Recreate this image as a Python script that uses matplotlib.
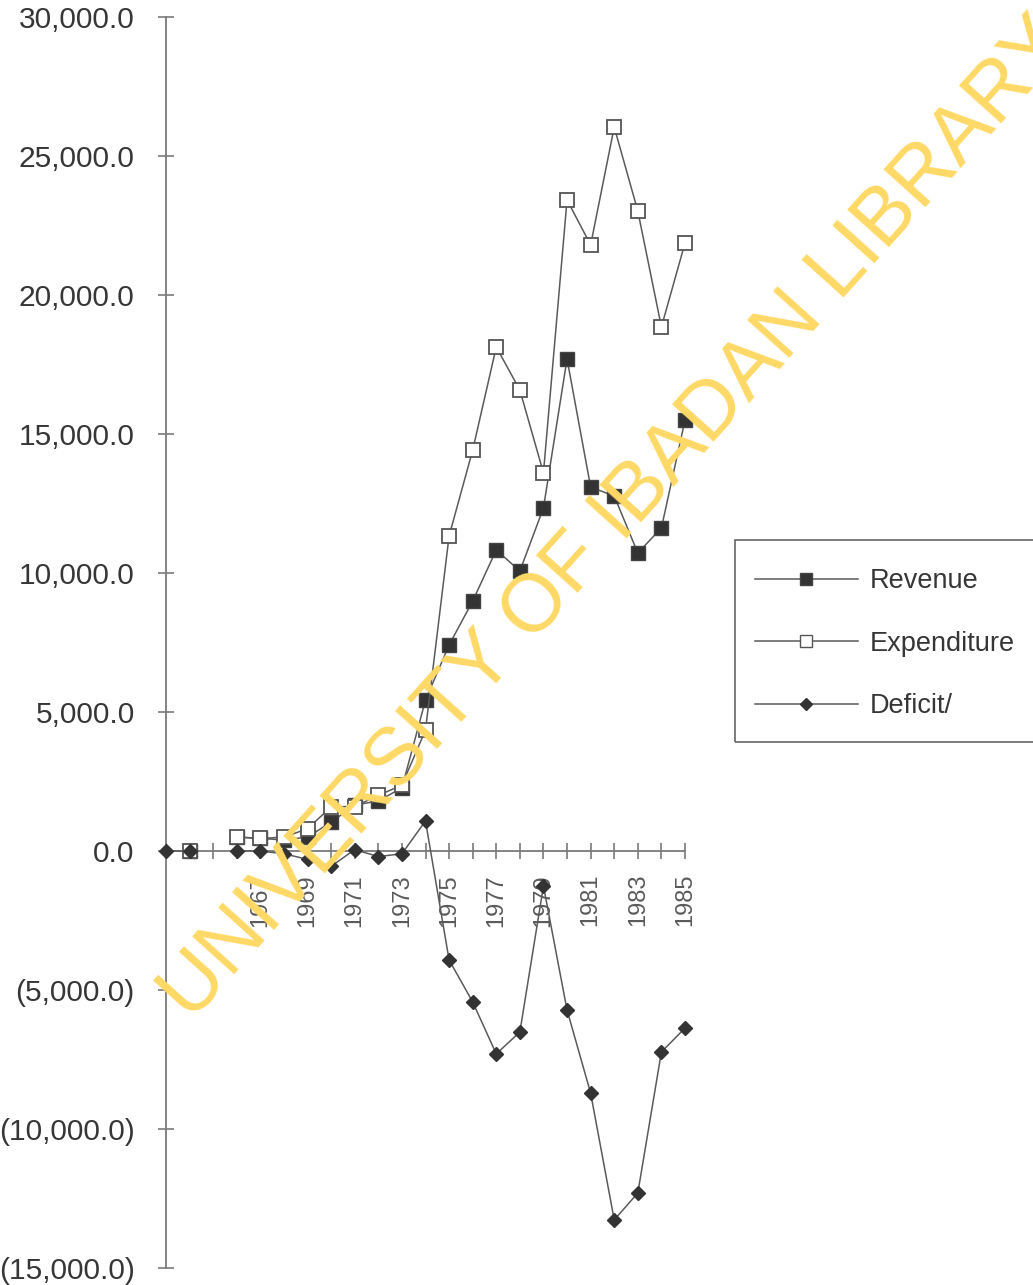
import numpy as np
import matplotlib
matplotlib.use("Agg")
import matplotlib.pyplot as plt
from matplotlib.lines import Line2D
from matplotlib.patches import Rectangle
from matplotlib.ticker import FuncFormatter

plt.rcParams["font.family"] = ["Liberation Sans", "DejaVu Sans"]

W, H = 1033, 1285
nan = np.nan

# federal revenue, expenditure and overall balance (N million), 1963-1985
YEARS = [1963, 1964, 1965, 1966, 1967, 1968, 1969, 1970, 1971, 1972, 1973, 1974,
         1975, 1976, 1977, 1978, 1979, 1980, 1981, 1982, 1983, 1984, 1985]
REVENUE = [nan, 0, nan, 500, 450, 400, 500, 1040, 1650, 1800, 2270, 5430,
           7410, 8990, 10830, 10070, 12340, 17700, 13090, 12770, 10720, 11620, 15500]
EXPENDITURE = [nan, 0, nan, 510, 450, 500, 800, 1590, 1600, 2000, 2370, 4350,
               11330, 14420, 18130, 16580, 13600, 23420, 21800, 26040, 23020, 18850, 21870]
DEFICIT = [0, 0, nan, 0, 0, -100, -300, -550, 50, -200, -100, 1080,
           -3920, -5430, -7300, -6510, -1260, -5720, -8710, -13270, -12300, -7230, -6370]
LABELLED = [1967, 1969, 1971, 1973, 1975, 1977, 1979, 1981, 1983, 1985]

LINE = "#5a5a5a"
AXC = "#7a7a7a"
TXT = "#363636"


def money(v, pos=None):
    s = f"{abs(v):,.1f}"
    return f"({s})" if v < 0 else s


fig = plt.figure(figsize=(W / 100, H / 100), dpi=100)
ax = fig.add_axes([166 / W, 1 - 1268 / H, (685 - 166) / W, (1268 - 17) / H])

x = np.arange(len(YEARS))
ax.plot(x, REVENUE, color=LINE, lw=1.1, marker="s", ms=9.5, mfc="#333333", mec="#444444",
        mew=1, clip_on=False, zorder=3)
ax.plot(x, EXPENDITURE, color=LINE, lw=1.1, marker="s", ms=10.5, mfc="white", mec="#555555",
        mew=1.3, clip_on=False, zorder=4)
ax.plot(x, DEFICIT, color=LINE, lw=1.1, marker="D", ms=7, mfc="#333333", mec="#333333",
        clip_on=False, zorder=5)

ax.set_xlim(0, len(YEARS) - 1)
ax.set_ylim(-15000, 30000)
for s in ["top", "right"]:
    ax.spines[s].set_visible(False)
ax.spines["bottom"].set_position(("data", 0))
for s in ["left", "bottom"]:
    ax.spines[s].set_color(AXC)
    ax.spines[s].set_linewidth(1.3)

ax.set_yticks(np.arange(-15000, 30001, 5000))
ax.yaxis.set_major_formatter(FuncFormatter(money))
ax.tick_params(axis="y", direction="inout", length=11, width=1.2, color=AXC,
               labelsize=21.5, labelcolor=TXT, pad=17)

ax.set_xticks(x)
ax.set_xticklabels([str(y) if y in LABELLED else "" for y in YEARS],
                   rotation=90, family=["Liberation Sans Narrow", "Liberation Sans"])
ax.tick_params(axis="x", direction="inout", length=11, width=1.2, color=AXC,
               labelsize=17, labelcolor="#5a5a5a", pad=11)

# legend box runs off the right edge of the page
fig.patches.append(Rectangle((735 / W, 1 - 742 / H), (1045 - 735) / W, (742 - 540) / H,
                             transform=fig.transFigure, fill=False, ec="#666666", lw=1.2))
handles = [
    Line2D([], [], color=LINE, lw=1.1, marker="s", ms=8.5, mfc="#333333", mec="#444444"),
    Line2D([], [], color=LINE, lw=1.1, marker="s", ms=9, mfc="white", mec="#555555"),
    Line2D([], [], color=LINE, lw=1.1, marker="D", ms=6.5, mfc="#333333", mec="#333333"),
]
fig.legend(handles, ["Revenue", "Expenditure", "Deficit/"], loc="upper left",
           bbox_to_anchor=(755 / W, 1 - 568 / H), frameon=False, borderpad=0,
           borderaxespad=0, handlelength=3.8, handletextpad=0.45, labelspacing=1.35,
           fontsize=19.5, labelcolor=TXT)

fig.text(616 / W, 1 - 520 / H, "UNIVERSITY OF IBADAN LIBRARY", rotation=48,
         rotation_mode="anchor", ha="center", va="center", fontsize=58.5,
         color="#FFD966", zorder=10)

fig.savefig("out.png", dpi=100)
